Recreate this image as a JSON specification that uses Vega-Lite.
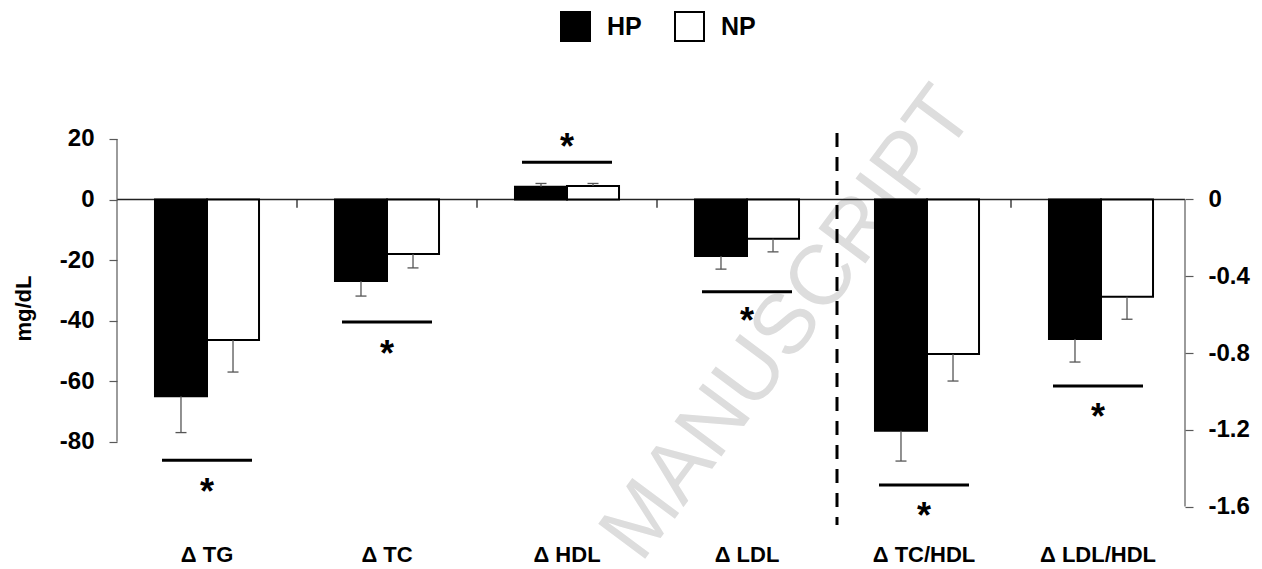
{
  "$schema": "https://vega.github.io/schema/vega-lite/v6.json",
  "background": "white",
  "padding": {"left": 12, "top": 11, "right": 5, "bottom": 0},
  "spacing": 0,
  "bounds": "flush",
  "datasets": {
    "mg": [
      {"cat": "Δ TG", "group": "HP", "value": -65, "err": -77},
      {"cat": "Δ TG", "group": "NP", "value": -46.4, "err": -57},
      {"cat": "Δ TC", "group": "HP", "value": -26.9, "err": -31.9},
      {"cat": "Δ TC", "group": "NP", "value": -18, "err": -22.6},
      {"cat": "Δ HDL", "group": "HP", "value": 4.2, "err": 5.3},
      {"cat": "Δ HDL", "group": "NP", "value": 4.5, "err": 5.3},
      {"cat": "Δ LDL", "group": "HP", "value": -18.7, "err": -23},
      {"cat": "Δ LDL", "group": "NP", "value": -13, "err": -17.3}
    ],
    "ratio": [
      {"cat": "Δ TC/HDL", "group": "HP", "value": -1.205, "err": -1.363},
      {"cat": "Δ TC/HDL", "group": "NP", "value": -0.805, "err": -0.946},
      {"cat": "Δ LDL/HDL", "group": "HP", "value": -0.727, "err": -0.847},
      {"cat": "Δ LDL/HDL", "group": "NP", "value": -0.507, "err": -0.624}
    ],
    "sigMg": [
      {"cat": "Δ TG", "line": -86.1, "star": -94.7},
      {"cat": "Δ TC", "line": -40.5, "star": -49.1},
      {"cat": "Δ HDL", "line": 12.3, "star": 19.4},
      {"cat": "Δ LDL", "line": -30.5, "star": -38.2}
    ],
    "sigRatio": [
      {"cat": "Δ TC/HDL", "line": -1.488, "star": -1.618},
      {"cat": "Δ LDL/HDL", "line": -0.972, "star": -1.102}
    ],
    "watermark": [
      {"cat": "Δ LDL", "pos": -46.1, "text": "MANUSCRIPT"}
    ]
  },
  "hconcat": [
    {
      "width": 720,
      "height": 392,
      "layer": [
        {
          "data": {"name": "watermark"},
          "mark": {"type": "text", "angle": -53.3, "fontSize": 85, "font": "Liberation Sans", "fontWeight": "normal", "color": "#dddddd", "align": "center", "baseline": "alphabetic"},
          "encoding": {
            "x": {"field": "cat", "type": "nominal", "bandPosition": 0.844},
            "y": {"field": "pos", "type": "quantitative"},
            "text": {"field": "text"}
          }
        },
        {
          "data": {"values": [{}]},
          "mark": {"type": "rule", "color": "#222222", "strokeWidth": 1.3},
          "encoding": {"y": {"datum": 0, "type": "quantitative"}}
        },
        {
          "data": {"values": [{"cat": "Δ TG"}]},
          "mark": {"type": "rule", "color": "#595959", "strokeWidth": 1.2},
          "encoding": {
            "x": {"field": "cat", "type": "nominal", "bandPosition": 0},
            "y": {"datum": 20, "type": "quantitative"},
            "y2": {"datum": -80}
          }
        },
        {
          "data": {"values": [{"cat": "Δ TC"}, {"cat": "Δ HDL"}, {"cat": "Δ LDL"}]},
          "mark": {"type": "rule", "color": "#222222", "strokeWidth": 1.3},
          "encoding": {
            "x": {"field": "cat", "type": "nominal", "bandPosition": 0},
            "y": {"datum": 0, "type": "quantitative"},
            "y2": {"datum": -2.7}
          }
        },
        {
          "data": {"name": "mg"},
          "mark": {"type": "bar", "stroke": "black", "strokeWidth": 2},
          "encoding": {
            "x": {"field": "cat", "type": "nominal", "sort": null, "scale": {"domain": ["Δ TG", "Δ TC", "Δ HDL", "Δ LDL"], "paddingInner": 0, "paddingOuter": 0}, "axis": {"title": null}},
            "xOffset": {"field": "group", "type": "nominal", "scale": {"domain": ["HP", "NP"], "paddingInner": 0, "paddingOuter": 0.73}},
            "y": {"field": "value", "type": "quantitative", "scale": {"domain": [-107.53, 21.97], "nice": false, "zero": false}, "axis": {"title": "mg/dL", "values": [20, 0, -20, -40, -60, -80], "format": "d", "titleY": 175}},
            "color": {"field": "group", "type": "nominal", "scale": {"domain": ["HP", "NP"], "range": ["#000000", "#ffffff"]}, "legend": {"orient": "none", "legendX": 443, "legendY": -122, "direction": "horizontal", "title": null}}
          }
        },
        {
          "data": {"name": "mg"},
          "mark": {"type": "rule", "color": "#555555", "strokeWidth": 1.3},
          "encoding": {
            "x": {"field": "cat", "type": "nominal"},
            "xOffset": {"field": "group", "type": "nominal"},
            "y": {"field": "value", "type": "quantitative"},
            "y2": {"field": "err"}
          }
        },
        {
          "data": {"name": "mg"},
          "mark": {"type": "tick", "color": "#555555", "opacity": 1, "thickness": 1.3, "size": 11},
          "encoding": {
            "x": {"field": "cat", "type": "nominal"},
            "xOffset": {"field": "group", "type": "nominal"},
            "y": {"field": "err", "type": "quantitative"}
          }
        },
        {
          "data": {"name": "sigMg"},
          "mark": {"type": "tick", "color": "black", "opacity": 1, "thickness": 3, "size": 90},
          "encoding": {
            "x": {"field": "cat", "type": "nominal"},
            "y": {"field": "line", "type": "quantitative"}
          }
        },
        {
          "data": {"name": "sigMg"},
          "mark": {"type": "text", "text": "*", "fontSize": 36, "fontWeight": "bold", "font": "Liberation Sans", "color": "black", "baseline": "middle", "align": "center", "dy": 7},
          "encoding": {
            "x": {"field": "cat", "type": "nominal"},
            "y": {"field": "star", "type": "quantitative"}
          }
        }
      ]
    },
    {
      "width": 348,
      "height": 392,
      "layer": [
        {
          "data": {"values": [{}]},
          "mark": {"type": "rule", "color": "#222222", "strokeWidth": 1.3},
          "encoding": {"y": {"datum": 0, "type": "quantitative"}}
        },
        {
          "data": {"values": [{"cat": "Δ LDL/HDL"}]},
          "mark": {"type": "rule", "color": "#222222", "strokeWidth": 1.3},
          "encoding": {
            "x": {"field": "cat", "type": "nominal", "bandPosition": 0},
            "y": {"datum": 0, "type": "quantitative"},
            "y2": {"datum": -0.043}
          }
        },
        {
          "data": {"values": [{"cat": "Δ LDL/HDL"}]},
          "mark": {"type": "rule", "color": "#595959", "strokeWidth": 1.2},
          "encoding": {
            "x": {"field": "cat", "type": "nominal", "bandPosition": 1},
            "y": {"datum": 0, "type": "quantitative"},
            "y2": {"datum": -1.6}
          }
        },
        {
          "data": {"values": [{"cat": "Δ TC/HDL"}]},
          "mark": {"type": "rule", "color": "black", "strokeWidth": 3, "strokeDash": [14, 10]},
          "encoding": {
            "x": {"field": "cat", "type": "nominal", "bandPosition": 0}
          }
        },
        {
          "data": {"name": "ratio"},
          "mark": {"type": "bar", "stroke": "black", "strokeWidth": 2},
          "encoding": {
            "x": {"field": "cat", "type": "nominal", "sort": null, "scale": {"domain": ["Δ TC/HDL", "Δ LDL/HDL"], "paddingInner": 0, "paddingOuter": 0}, "axis": {"title": null}},
            "xOffset": {"field": "group", "type": "nominal", "scale": {"domain": ["HP", "NP"], "paddingInner": 0, "paddingOuter": 0.74}},
            "y": {"field": "value", "type": "quantitative", "scale": {"domain": [-1.6962, 0.3465], "nice": false, "zero": false}, "axis": {"orient": "right", "title": null, "values": [0, -0.4, -0.8, -1.2, -1.6], "labelExpr": "datum.value == 0 ? '0' : format(datum.value, '.1f')"}},
            "color": {"field": "group", "type": "nominal", "scale": {"domain": ["HP", "NP"], "range": ["#000000", "#ffffff"]}, "legend": {"orient": "none", "legendX": 443, "legendY": -122, "direction": "horizontal", "title": null}}
          }
        },
        {
          "data": {"name": "ratio"},
          "mark": {"type": "rule", "color": "#555555", "strokeWidth": 1.3},
          "encoding": {
            "x": {"field": "cat", "type": "nominal"},
            "xOffset": {"field": "group", "type": "nominal"},
            "y": {"field": "value", "type": "quantitative"},
            "y2": {"field": "err"}
          }
        },
        {
          "data": {"name": "ratio"},
          "mark": {"type": "tick", "color": "#555555", "opacity": 1, "thickness": 1.3, "size": 11},
          "encoding": {
            "x": {"field": "cat", "type": "nominal"},
            "xOffset": {"field": "group", "type": "nominal"},
            "y": {"field": "err", "type": "quantitative"}
          }
        },
        {
          "data": {"name": "sigRatio"},
          "mark": {"type": "tick", "color": "black", "opacity": 1, "thickness": 3, "size": 90},
          "encoding": {
            "x": {"field": "cat", "type": "nominal"},
            "y": {"field": "line", "type": "quantitative"}
          }
        },
        {
          "data": {"name": "sigRatio"},
          "mark": {"type": "text", "text": "*", "fontSize": 36, "fontWeight": "bold", "font": "Liberation Sans", "color": "black", "baseline": "middle", "align": "center", "dy": 7},
          "encoding": {
            "x": {"field": "cat", "type": "nominal"},
            "y": {"field": "star", "type": "quantitative"}
          }
        }
      ]
    }
  ],
  "resolve": {"scale": {"color": "shared"}, "legend": {"color": "shared"}},
  "config": {
    "view": {"stroke": null},
    "font": "Liberation Sans",
    "locale": {"number": {"decimal": ".", "thousands": ",", "grouping": [3], "currency": ["$", ""], "minus": "-"}},
    "axis": {
      "grid": false,
      "domain": false,
      "labelFont": "Liberation Sans",
      "labelFontWeight": "bold",
      "labelColor": "#000000",
      "titleFont": "Liberation Sans",
      "titleFontWeight": "bold",
      "titleColor": "#000000",
      "tickColor": "#595959",
      "tickSize": 8,
      "tickWidth": 1.2
    },
    "axisX": {"ticks": false, "labelFontSize": 22, "labelPadding": 19, "labelAngle": 0},
    "axisLeft": {"labelFontSize": 24, "labelPadding": 15, "titleFontSize": 22, "titlePadding": 24},
    "axisRight": {"labelFontSize": 24, "labelPadding": 15},
    "legend": {
      "symbolType": "square",
      "symbolSize": 841,
      "symbolStrokeColor": "black",
      "symbolStrokeWidth": 2,
      "symbolOpacity": 1,
      "labelFont": "Liberation Sans",
      "labelFontSize": 25,
      "labelFontWeight": "bold",
      "labelColor": "#000000",
      "labelOffset": 16,
      "columnPadding": 29,
      "padding": 0
    }
  }
}
